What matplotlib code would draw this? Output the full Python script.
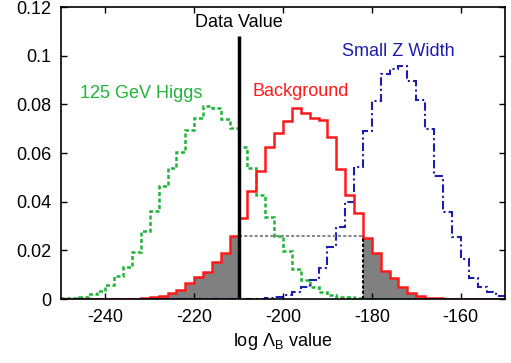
import matplotlib
matplotlib.use('Agg')
import matplotlib.pyplot as plt
import numpy as np

plt.rcParams['font.family'] = ['Liberation Sans', 'DejaVu Sans']
plt.rcParams['axes.unicode_minus'] = False
plt.rcParams['mathtext.fontset'] = 'custom'
plt.rcParams['mathtext.rm'] = 'Liberation Sans'

# bin edges, width 2, from -250 to -150
edges = np.arange(-250, -148, 2)

# background (red), one value per bin
background = [0, 0, 0, 0, 0,
              0.0001, 0.0001, 0.0001, 0.0002, 0.0003,
              0.0007, 0.0011, 0.0023, 0.0037, 0.0067,
              0.0089, 0.0112, 0.0151, 0.0188, 0.026,
              0.0334, 0.0445, 0.0526, 0.0624, 0.0683,
              0.0732, 0.0783, 0.0765, 0.0742, 0.0735,
              0.0664, 0.0535, 0.0427, 0.0353, 0.0249,
              0.0188, 0.0117, 0.0085, 0.0049, 0.0023,
              0.0013, 0.0006, 0.0003, 0.0002, 0.0001,
              0.0001, 0, 0, 0, 0]

higgs = [0.0003, 0.0004, 0.0007, 0.002, 0.0034,
         0.0057, 0.0096, 0.0133, 0.0194, 0.0279,
         0.0361, 0.0465, 0.0537, 0.0605, 0.0694,
         0.0745, 0.0793, 0.0785, 0.0738, 0.0701,
         0.0623, 0.0537, 0.0427, 0.0338, 0.026,
         0.0197, 0.0123, 0.0078, 0.0051, 0.0027,
         0.0016, 0.001, 0.0007, 0.0004, 0.0002,
         0.0002, 0.0001, 0, 0, 0,
         0, 0, 0, 0, 0,
         0, 0, 0, 0, 0]

small_z = [0, 0, 0, 0, 0,
           0, 0, 0, 0, 0,
           0, 0, 0, 0, 0,
           0, 0, 0, 0, 0,
           0.0001, 0.0001, 0.0002, 0.0005, 0.001,
           0.0016, 0.003, 0.0051, 0.0078, 0.0126,
           0.0213, 0.0297, 0.0398, 0.0542, 0.0691,
           0.0814, 0.0924, 0.0947, 0.0957, 0.0897,
           0.0817, 0.0697, 0.0505, 0.0359, 0.0256,
           0.0163, 0.0085, 0.0048, 0.0027, 0.0012]

data_value = -210
right_cut = -182

background = np.array(background)
green = '#1fb539'
blue = '#1c1cae'
red = '#ff1a1a'

fig = plt.figure(figsize=(5.11, 3.63), dpi=100)
ax = fig.add_axes([61/511, 64/363, 444/511, 292/363])

# shaded tails of the background
left = edges[1:] <= data_value
ax.stairs(background[left], edges[:left.sum()+1], fill=True, color='#808080', lw=0)
right = edges[:-1] >= right_cut
i0 = np.argmax(right)
ax.stairs(background[right], edges[i0:], fill=True, color='#808080', lw=0)

ax.stairs(higgs, edges, color=green, lw=1.8, ls=(0, (1.6, 1.0)))
ax.stairs(small_z, edges, color=blue, lw=1.5, ls=(0, (4, 1.5, 1, 1.5)))
ax.stairs(background, edges, color=red, lw=1.8)

# dashed level line between the two cuts
level = background[left][-1]
ax.hlines(level, data_value, right_cut, colors='#888888', lw=1.5, ls=(0, (1.5, 1)))
ax.vlines(right_cut, 0, level, colors='black', lw=1.5, ls=(0, (1.5, 1)))

ax.vlines(data_value, 0, 0.108, colors='black', lw=2.5)

fs = 13
ax.text(data_value, 0.1135, 'Data Value', ha='center', va='center', fontsize=fs)
ax.text(-232, 0.0845, '125 GeV Higgs', ha='center', va='center', fontsize=fs, color=green)
ax.text(-196, 0.0851, 'Background', ha='center', va='center', fontsize=fs, color=red)
ax.text(-174, 0.1016, 'Small Z Width', ha='center', va='center', fontsize=fs, color=blue)

ax.set_xlim(-250, -150)
ax.set_ylim(0, 0.12)
ax.set_xticks([-240, -220, -200, -180, -160])
ax.set_yticks([0, 0.02, 0.04, 0.06, 0.08, 0.1, 0.12])
ax.set_yticklabels(['0', '0.02', '0.04', '0.06', '0.08', '0.1', '0.12'])
ax.tick_params(direction='in', top=True, right=True, length=4, width=1, labelsize=fs, pad=7)
for s in ax.spines.values():
    s.set_linewidth(1.2)
ax.set_xlabel(r'log $\Lambda_{\rm B}$ value', fontsize=fs, labelpad=4)

fig.savefig('out.png', dpi=100)
